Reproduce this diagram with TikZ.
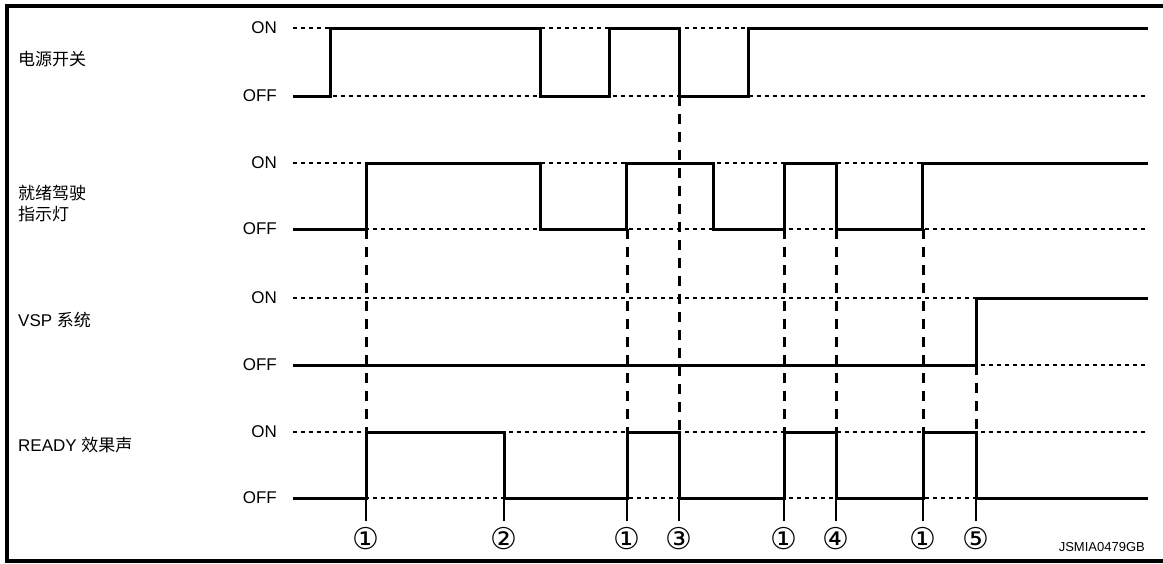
\documentclass[tikz,border=0pt]{standalone}
\usepackage{fontspec}
\setmainfont{Liberation Sans}
\newfontfamily\cjk{Noto Sans CJK SC}
\newfontfamily\symf{DejaVu Sans}
\begin{document}
\begin{tikzpicture}[x=1pt,y=-1pt,
  sig/.style={line width=3pt, line join=miter},
  ref/.style={line width=1.2pt, dash pattern=on 4pt off 4pt},
  vdash/.style={line width=3pt, dash pattern=on 10pt off 8pt},
  tick/.style={line width=1.2pt},
  lvl/.style={anchor=east, font=\fontsize{17}{20}\selectfont, inner sep=0pt},
  rowlab/.style={anchor=west, font=\fontsize{17}{21}\selectfont, inner sep=0pt, align=left},
  num/.style={circle, minimum size=22pt, inner sep=0pt, font=\symf\fontsize{30}{30}\selectfont},
  code/.style={anchor=east, inner sep=0pt, font=\fontsize{13}{14}\selectfont}]
\useasboundingbox (0,0) rectangle (1163,563);
\clip (0,0) rectangle (1163,563);
\draw[line width=4pt] (7,6) rectangle (1180,561);

% row labels
\node[rowlab] (r1) at (18,59) {\cjk 电源开关};
\node[rowlab] (r2) at (18,204) {\cjk 就绪驾驶\\\cjk 指示灯};
\node[rowlab] (r3) at (18,320) {VSP {\cjk 系统}};
\node[rowlab] (r4) at (18,445) {READY {\cjk 效果声}};

% level labels
\foreach \y/\n in {28/a,163/b,298/c,432/d}{
  \node[lvl] (on\n) at (277,\y) {ON};
}
\foreach \y/\n in {96/a,229/b,365/c,498/d}{
  \node[lvl] (off\n) at (277,\y) {OFF};
}

% reference dotted lines
\foreach \y in {28,96,163,229,298,365,432,498}{
  \draw[ref] (293,\y) -- (1147,\y);
}

% signals
\draw[sig] (293,96) -| (330,28) -| (540,96) -| (609,28) -| (679,96) -| (748,28) -- (1148,28);
\draw[sig] (293,229) -| (366,163) -| (540,229) -| (626,163) -| (713,229) -| (784,163) -| (836,229) -| (922,163) -- (1148,163);
\draw[sig] (293,365) -| (976,298) -- (1148,298);
\draw[sig] (293,498) -| (366,432) -| (504,498) -| (627,432) -| (679,498) -| (784,432) -| (836,498) -| (923,432) -| (976,498) -- (1148,498);

% dashed verticals
\draw[vdash] (366,229) -- (366,432);
\draw[vdash] (627,229) -- (627,432);
\draw[vdash] (679,96) -- (679,432);
\draw[vdash] (784,229) -- (784,432);
\draw[vdash] (836,229) -- (836,432);
\draw[vdash] (923,229) -- (923,432);
\draw[vdash] (976,365) -- (976,432);

% event markers
\foreach \x/\t/\n in {366/①/1, 504/②/2, 627/①/3, 679/③/4, 784/①/5, 836/④/6, 923/①/7, 976/⑤/8}{
  \coordinate (e\n) at (\x,498);
  \node[num] (c\n) at (\x,539) {\t};
  \draw[tick] (e\n) -- (c\n.north);
}

\node[code] (id) at (1145,547) {JSMIA0479GB};
\end{tikzpicture}
\end{document}
